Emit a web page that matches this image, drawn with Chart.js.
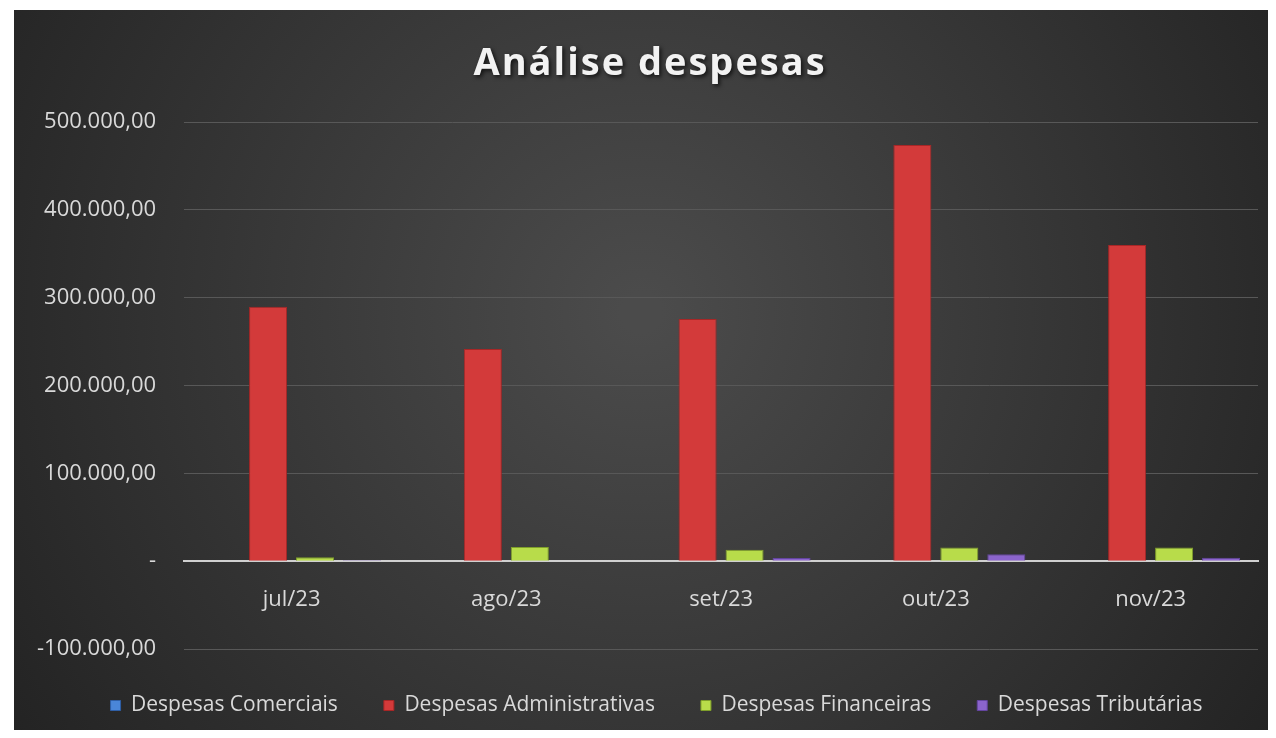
<!DOCTYPE html>
<html>
<head>
<meta charset="utf-8">
<script src="https://cdn.jsdelivr.net/npm/chart.js@4"></script>
<style>
  body { margin: 0; background: #fff; }
  #wrap { position: absolute; left: 14px; top: 10px; width: 1254px; height: 720px; }
</style>
</head>
<body>
<div id="wrap"><canvas id="despesasChart"></canvas></div>
<script>
const months = ["jul/23", "ago/23", "set/23", "out/23", "nov/23"];
const comerciais = [0, 0, 0, 0, 0];
const administrativas = [289600, 241500, 275600, 473800, 360000];
const financeiras = [4500, 16000, 13000, 15600, 15500];
const tributarias = [1000, 500, 3500, 8000, 4000];

const fmt = new Intl.NumberFormat("pt-BR", { minimumFractionDigits: 2, maximumFractionDigits: 2 });

const background = {
  id: "background",
  beforeDraw(chart) {
    const { ctx, width, height } = chart;
    const g = ctx.createRadialGradient(width * 0.5, height * 0.42, 20, width * 0.5, height * 0.42, width * 0.62);
    g.addColorStop(0, "#4b4b4b");
    g.addColorStop(1, "#222222");
    ctx.save();
    ctx.fillStyle = g;
    ctx.fillRect(0, 0, width, height);
    ctx.restore();
  },
};

// title drawn by hand so it can have letter spacing and a shadow
const spacedTitle = {
  id: "spacedTitle",
  afterDraw(chart) {
    const ctx = chart.ctx;
    ctx.save();
    ctx.font = "bold 38px 'Open Sans'";
    ctx.letterSpacing = "2px";
    ctx.textAlign = "center";
    ctx.textBaseline = "middle";
    ctx.shadowColor = "rgba(0,0,0,0.7)";
    ctx.shadowBlur = 4;
    ctx.shadowOffsetX = 2;
    ctx.shadowOffsetY = 2;
    ctx.fillStyle = "#f2f2f2";
    ctx.fillText("Análise despesas", chart.width / 2 + 9, 54);
    ctx.restore();
  },
};

// legend sits a bit right of the plot centre in the original
const legendShift = {
  id: "legendShift",
  afterLayout(chart) {
    chart.legend.left += 23;
    chart.legend.right += 23;
  },
};

function barStyle(label, data, color, edge) {
  return {
    label: label,
    data: data,
    backgroundColor: color,
    borderColor: edge,
    borderWidth: 1,
    categoryPercentage: 0.875,
    barPercentage: 0.81,
  };
}

new Chart(document.getElementById("despesasChart"), {
  type: "bar",
  data: {
    labels: months,
    datasets: [
      barStyle("Despesas Comerciais", comerciais, "#4a86d8", "#2f5fa6"),
      barStyle("Despesas Administrativas", administrativas, "#d33a3a", "#a82626"),
      barStyle("Despesas Financeiras", financeiras, "#b8dc4a", "#7f9f2a"),
      barStyle("Despesas Tributárias", tributarias, "#8b64cc", "#6445a0"),
    ],
  },
  options: {
    responsive: true,
    maintainAspectRatio: false,
    animation: false,
    layout: { padding: { top: 112, left: -5, right: 10, bottom: 4 } },
    plugins: {
      title: { display: false },
      tooltip: { enabled: false },
      legend: {
        position: "bottom",
        labels: {
          color: "#d9d9d9",
          font: { family: "'Open Sans'", size: 21 },
          boxWidth: 10,
          boxHeight: 10,
          padding: 46,
        },
      },
    },
    scales: {
      y: {
        min: -100000,
        max: 500000,
        ticks: {
          stepSize: 100000,
          color: "#d9d9d9",
          font: { family: "'Open Sans'", size: 22 },
          padding: 28,
          callback: (v) => (v === 0 ? "-" : fmt.format(v)),
        },
        grid: { color: "#585858", lineWidth: 1, drawTicks: false },
        border: { display: false },
      },
      x: {
        position: { y: 0 },
        grid: { display: false },
        border: { color: "#d0d0d0", width: 2 },
        ticks: {
          color: "#d9d9d9",
          font: { family: "'Open Sans'", size: 22 },
          padding: 17,
        },
      },
    },
  },
  plugins: [background, spacedTitle, legendShift],
});
</script>
</body>
</html>
